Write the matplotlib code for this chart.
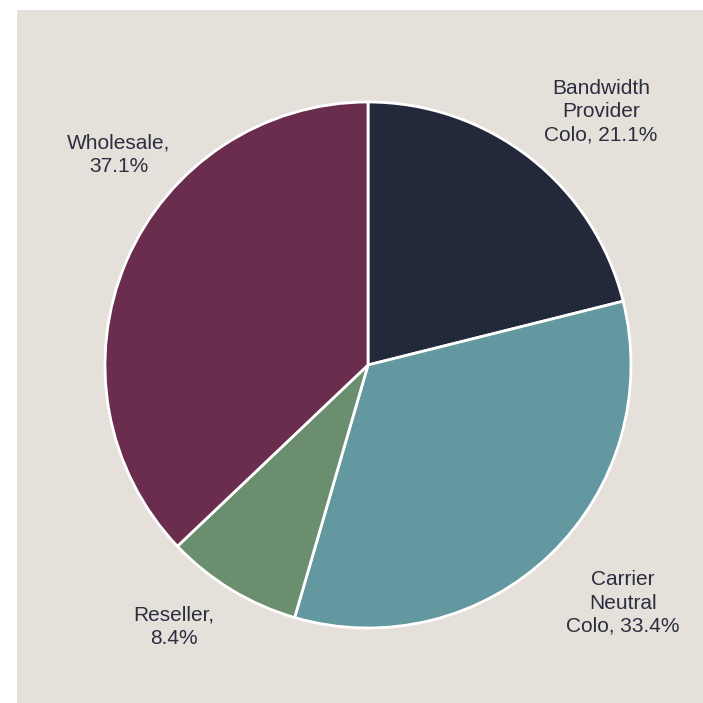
import matplotlib
matplotlib.use('Agg')
import matplotlib.pyplot as plt
from matplotlib.patches import Rectangle

# Colocation market share by provider type
segments = ["Bandwidth\nProvider\nColo", "Carrier\nNeutral\nColo", "Reseller", "Wholesale"]
shares = [21.1, 33.4, 8.4, 37.1]
colors = ["#24283B", "#6398A1", "#6A8E6E", "#6A2D4E"]

# label centres, in pie radius units
label_pos = [(0.885, 0.962), (0.97, -0.905), (-0.738, -0.995), (-0.947, 0.80)]

plt.rcParams['font.family'] = ['Liberation Sans', 'DejaVu Sans']

fig = plt.figure(figsize=(7.03, 7.03), dpi=100, facecolor='white')
fig.patches.append(Rectangle((17 / 703, 0), 686 / 703, 693 / 703,
                             transform=fig.transFigure, facecolor='#E6E0DB',
                             edgecolor='none', zorder=-1))

ax = fig.add_axes([0, 0, 1, 1])
ax.patch.set_alpha(0)
ax.pie(shares, colors=colors, startangle=90, counterclock=False,
       wedgeprops=dict(edgecolor='white', linewidth=2))

for name, share, (x, y) in zip(segments, shares, label_pos):
    sep = "\n" if "\n" not in name else " "
    ax.text(x, y, "{0},{1}{2}%".format(name, sep, share),
            ha='center', va='center', fontsize=15, color='#2B2E3F', linespacing=1.27)

ax.set_xlim(-368 / 263, (703 - 368) / 263)
ax.set_ylim(-338 / 263, (703 - 338) / 263)
ax.set_axis_off()

fig.savefig("out.png", dpi=100, facecolor=fig.get_facecolor())
